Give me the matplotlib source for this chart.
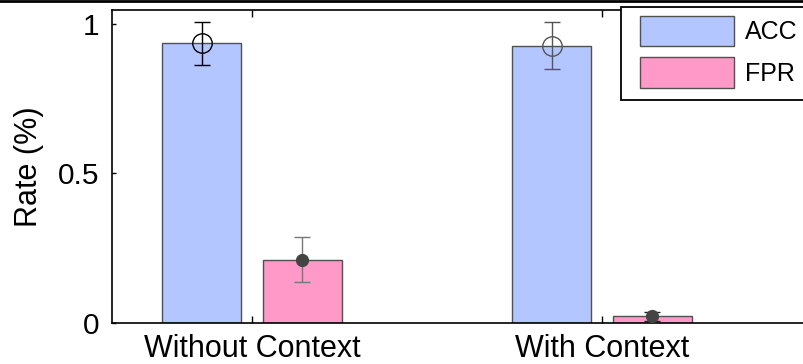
import matplotlib
matplotlib.use("Agg")
import matplotlib.pyplot as plt
from matplotlib.lines import Line2D
from matplotlib.patches import Rectangle
import numpy as np

plt.rcParams['font.family'] = ['Liberation Sans', 'DejaVu Sans']

# Data
conditions = ["Without Context", "With Context"]
series = ["ACC", "FPR"]
acc_mean = [0.935, 0.927]
acc_err = [0.071, 0.079]
fpr_mean = [0.212, 0.022]
fpr_err = [0.076, 0.016]
yticks = [0, 0.5, 1]
ytick_labels = ["0", "0.5", "1"]

W, H = 804, 364
fig = plt.figure(figsize=(W / 100, H / 100), dpi=100)

# axes box (right side runs past the figure edge)
left, right, bottom, top = 112, 830, 323, 10
ax = fig.add_axes([left / W, (H - bottom) / H, (right - left) / W, (bottom - top) / H])

x = np.arange(1, len(conditions) + 1)
bw = 0.226
off = 0.144
blue = "#b3c6ff"
pink = "#ff99c8"
edge = "#505050"

ax.bar(x - off, acc_mean, bw, color=blue, edgecolor=edge, linewidth=1.0, label=series[0], zorder=2)
ax.bar(x + off, fpr_mean, bw, color=pink, edgecolor=edge, linewidth=1.0, label=series[1], zorder=2)

acc_cols = ["#000000", "#555555"]
fpr_cols = ["#777777", "#222222"]
for i in range(len(conditions)):
    ax.errorbar(x[i] - off, acc_mean[i], yerr=acc_err[i], fmt='o', ms=14, mfc='none',
                mec=acc_cols[i], mew=1.0, ecolor=acc_cols[i], elinewidth=1.0,
                capsize=5.5, capthick=1.0, zorder=3)
    ax.errorbar(x[i] + off, fpr_mean[i], yerr=fpr_err[i], fmt='o', ms=8.5, mfc='#444444',
                mec='#444444', ecolor=fpr_cols[i], elinewidth=1.0,
                capsize=5.5, capthick=1.0, zorder=3)

ax.set_xlim(0.6, 0.6 + (right - left) / 350)
ax.set_ylim(0, (bottom - top) / 299)
ax.set_xticks(x)
ax.set_xticklabels(conditions, fontsize=22)
ax.set_yticks(yticks)
ax.set_yticklabels(ytick_labels, fontsize=21.5)
ax.tick_params(axis='x', direction='in', length=5, width=1, top=True, pad=8)
ax.tick_params(axis='y', direction='in', length=3, width=1, pad=9)
ax.set_ylabel("Rate (%)", fontsize=22, labelpad=10)
ax.spines['right'].set_visible(False)
for s in ax.spines.values():
    s.set_linewidth(1.2)
    s.set_color("black")

# legend frame, running off the right edge
ax.add_patch(Rectangle((621 / W, 1 - 100 / H), 0.3, 93 / H, transform=fig.transFigure,
                       facecolor='white', edgecolor='black', linewidth=1.3,
                       clip_on=False, zorder=6))
leg = ax.legend(loc='upper left', bbox_to_anchor=(640 / W, 1 - 16 / H),
                bbox_transform=fig.transFigure, fontsize=18, frameon=False,
                handlelength=3.76, handleheight=1.48, handletextpad=0.45,
                borderpad=0, labelspacing=0.45, borderaxespad=0)
leg.set_zorder(7)

# rule along the top edge
fig.add_artist(Line2D([0, 1], [1 - 1 / H, 1 - 1 / H], color='black', lw=2,
                      transform=fig.transFigure))

fig.savefig("out.png", dpi=100)
